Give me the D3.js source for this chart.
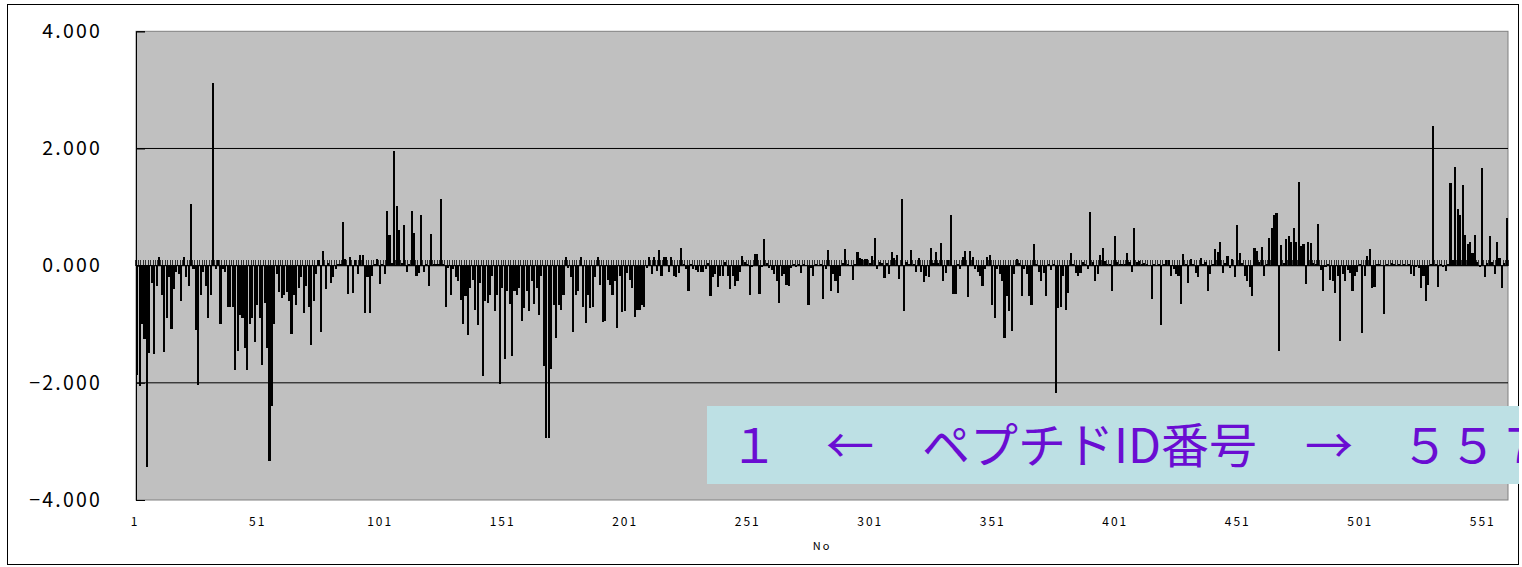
<!DOCTYPE html>
<html>
<head>
<meta charset="utf-8">
<script src="https://cdn.jsdelivr.net/npm/d3@7"></script>
<style>
  html, body { margin: 0; padding: 0; background: #ffffff; }
  svg { display: block; }
</style>
</head>
<body>
<svg id="chart" width="1522" height="567"></svg>
<script>
// Score for each peptide, in peptide ID order (No 1 ... 560)
const peptideValues = [
  -1.87, -2.05, -1.00, -1.25, -3.43, -1.49, -0.30, -1.50, -0.35,  0.15,   // 1-10
  -0.50, -1.47, -0.90, -0.20, -1.08, -0.40, -0.10, -0.15, -0.60,  0.15,   // 11-20
  -0.20, -0.35,  1.06, -0.05, -1.10, -2.03, -0.50, -0.10, -0.35, -0.90,   // 21-30
  -0.50,  3.12, -0.05,  0.10, -1.00, -0.05, -0.10, -0.70, -0.70, -0.70,   // 31-40
  -1.78, -1.46, -0.85, -0.90, -1.40, -1.78, -1.00, -0.90, -1.30, -0.67,   // 41-50
  -0.90, -1.70, -0.64, -1.40, -3.33, -2.40, -1.00, -0.15, -0.45, -0.55,   // 51-60
  -0.50, -0.45, -0.60, -1.17, -0.50, -0.67, -0.38, -0.20, -0.80, -0.35,   // 61-70
  -0.70, -1.35, -0.60, -0.15,  0.10, -1.13,  0.25, -0.40,  0.05, -0.30,   // 71-80
  -0.20, -0.05,  0.02,  0.02,  0.75,  0.12, -0.48,  0.15, -0.47,  0.10,   // 81-90
  -0.15,  0.18,  0.18, -0.80, -0.20, -0.80, -0.18,  0.02,  0.12, -0.32,   // 91-100
   0.02, -0.15,  0.93,  0.53,  0.05,  1.95,  1.02,  0.60,  0.05,  0.70,   // 101-110
  -0.10,  0.02,  0.93,  0.56, -0.18, -0.12,  0.87, -0.10,  0.02, -0.35,   // 111-120
   0.54,  0.03,  0.03,  0.03,  1.14,  0.02, -0.71, -0.04, -0.50, -0.05,   // 121-130
  -0.20, -0.27, -0.58, -1.00, -0.52, -1.18, -0.38, -0.24, -0.75, -1.02,   // 131-140
  -0.30, -1.89, -0.60, -0.64, -0.50, -0.18, -0.77, -0.50, -2.02, -0.38,   // 141-150
  -1.60, -0.44, -0.65, -1.55, -0.44, -0.50, -0.38, -0.95, -0.72, -0.44,   // 151-160
  -0.78, -0.27, -0.65, -0.38, -0.85, -0.18, -1.72, -2.94, -2.94, -1.76,   // 161-170
  -0.67, -1.24, -0.67, -0.75, -0.50,  0.14, -0.04, -0.20, -1.13, -0.50,   // 171-180
  -0.44,  0.14, -0.70, -0.98, -0.50, -0.72, -0.70, -0.20,  0.15, -0.33,   // 181-190
  -0.96, -0.95, -0.24, -0.33, -0.50, -0.27, -1.07, -0.18, -0.79, -0.78,   // 191-200
  -0.12, -0.24, -0.38, -0.87, -0.75, -0.75, -0.68, -0.70, -0.04,  0.14,   // 201-210
  -0.15,  0.15, -0.09,  0.27, -0.18,  0.14,  0.14, -0.10,  0.14, -0.18,   // 211-220
  -0.20, -0.12,  0.30,  0.02, -0.05, -0.44,  0.02, -0.05, -0.07, -0.10,   // 221-230
  -0.10, -0.10, -0.05,  0.05, -0.52, -0.20, -0.15, -0.37, -0.18, -0.18,   // 231-240
   0.07, -0.18, -0.40, -0.18, -0.35, -0.27, -0.10,  0.17,  0.07,  0.02,   // 241-250
  -0.50, -0.02,  0.20,  0.20, -0.48, -0.02,  0.45,  0.05, -0.04, -0.08,   // 251-260
  -0.15, -0.27, -0.64, -0.18, -0.15, -0.33, -0.35, -0.04,  0.03, -0.02,   // 261-270
   0.02, -0.12,  0.02,  0.00, -0.68, -0.04, -0.18,  0.02,  0.00,  0.02,   // 271-280
  -0.57, -0.05,  0.27, -0.44, -0.15, -0.27, -0.47, -0.18,  0.05,  0.29,   // 281-290
   0.02,  0.00, -0.24,  0.02,  0.23,  0.13,  0.12,  0.11,  0.12,  0.05,   // 291-300
   0.17,  0.47, -0.05,  0.07,  0.05, -0.21,  0.05, -0.15,  0.23,  0.13,   // 301-310
   0.18, -0.22,  1.14, -0.77,  0.07,  0.02,  0.27,  0.02, -0.11,  0.13,   // 311-320
  -0.10, -0.28, -0.18, -0.20,  0.30,  0.05,  0.23,  0.05,  0.38, -0.27,   // 321-330
  -0.12,  0.10,  0.86, -0.48, -0.48,  0.02, -0.05,  0.15,  0.25, -0.54,   // 331-340
   0.25,  0.14, -0.05, -0.10, -0.18, -0.34, -0.05,  0.14,  0.18, -0.67,   // 341-350
  -0.90, -0.05, -0.15, -0.27, -1.23, -0.52, -0.78, -1.12, -0.15,  0.12,   // 351-360
   0.05, -0.52, -0.05, -0.15, -0.52, -0.68,  0.37,  0.02, -0.10, -0.27,   // 361-370
  -0.12, -0.52,  0.02, -0.08,  0.02, -2.17, -0.72, -0.71, -0.17, -0.75,   // 371-380
  -0.47,  0.21,  0.02, -0.12, -0.17, -0.12,  0.07,  0.02, -0.06,  0.92,   // 381-390
   0.07, -0.26, -0.15,  0.18,  0.30,  0.08,  0.02,  0.03, -0.44,  0.50,   // 391-400
   0.07,  0.03,  0.02,  0.03,  0.21,  0.07, -0.11,  0.64,  0.07,  0.08,   // 401-410
   0.02,  0.05,  0.02,  0.00, -0.57,  0.02,  0.00,  0.02, -1.02,  0.02,   // 411-420
   0.10,  0.10, -0.18, -0.05, -0.15, -0.18, -0.66,  0.20,  0.03, -0.30,   // 421-430
   0.12,  0.02, -0.12, -0.20,  0.13,  0.02,  0.07, -0.43, -0.15,  0.02,   // 431-440
   0.29,  0.24,  0.40, -0.12,  0.05,  0.16, -0.04,  0.12, -0.20,  0.70,   // 441-450
   0.21,  0.05, -0.18, -0.27, -0.37, -0.52,  0.30,  0.25,  0.07,  0.31,   // 451-460
  -0.18,  0.03,  0.47,  0.64,  0.87,  0.90, -1.45,  0.36,  0.05,  0.45,   // 461-470
   0.50,  0.41,  0.65,  0.41,  1.43,  0.34,  0.37, -0.31,  0.41,  0.38,   // 471-480
   0.05,  0.02,  0.71, -0.07, -0.43, -0.03,  0.02, -0.24, -0.26, -0.47,   // 481-490
  -0.18, -1.28, -0.15, -0.26, -0.08, -0.12, -0.43, -0.18, -0.10,  0.02,   // 491-500
  -1.15, -0.18,  0.16,  0.29, -0.38, -0.37,  0.02,  0.02,  0.00, -0.83,   // 501-510
   0.02,  0.00,  0.05,  0.02,  0.00,  0.02,  0.00,  0.02,  0.00,  0.02,   // 511-520
  -0.15, -0.18, -0.03, -0.04, -0.38, -0.18, -0.60, -0.33,  0.02,  2.39,   // 521-530
   0.02, -0.37,  0.02, -0.03, -0.09,  0.02,  1.41,  0.10,  1.69,  0.97,   // 531-540
   0.87,  1.38,  0.53,  0.37,  0.41,  0.21,  0.53,  0.07, -0.03,  1.66,   // 541-550
  -0.20,  0.05,  0.50,  0.07, -0.15,  0.40,  0.13, -0.38,  0.05,  0.82    // 551-560
];

// Peptide ID numbers (category axis)
const peptideNo = peptideValues.map((v, i) => i + 1);

// Value axis ticks and category axis labels
const yTickValues = [-4, -2, 0, 2, 4];
const gridValues = [-2, 2];
const xTickLabels = [1, 51, 101, 151, 201, 251, 301, 351, 401, 451, 501, 551];
const xAxisTitle = "No";
const bannerText = "１　←　ペプチドID番号　→　５５７";

const svg = d3.select("#chart");
const W = 1522, H = 567;
const plot = { left: 136, right: 1508, top: 31.3, bottom: 500 };

const x = d3.scaleBand()
  .domain(peptideNo)
  .range([plot.left, plot.right])
  .paddingInner(0.15)
  .paddingOuter(0.05);

const y = d3.scaleLinear()
  .domain([-4, 4])
  .range([plot.bottom, plot.top]);

// outer chart border
svg.append("rect")
  .attr("x", 7.5).attr("y", 4.5)
  .attr("width", 1511).attr("height", 560)
  .attr("fill", "#ffffff")
  .attr("stroke", "#000000")
  .attr("stroke-width", 1);

// plot area
svg.append("rect")
  .attr("x", plot.left).attr("y", plot.top)
  .attr("width", plot.right - plot.left)
  .attr("height", plot.bottom - plot.top)
  .attr("fill", "#c0c0c0")
  .attr("stroke", "#808080")
  .attr("stroke-width", 1);

// horizontal gridlines
svg.append("g")
  .selectAll("line")
  .data(gridValues)
  .join("line")
  .attr("x1", plot.left).attr("x2", plot.right)
  .attr("y1", d => y(d)).attr("y2", d => y(d))
  .attr("stroke", "#000000")
  .attr("stroke-width", 1);

// bars
svg.append("g")
  .attr("shape-rendering", "crispEdges")
  .selectAll("rect")
  .data(peptideValues)
  .join("rect")
  .attr("x", (d, i) => x(peptideNo[i]))
  .attr("width", x.bandwidth())
  .attr("y", d => y(Math.max(0, d)))
  .attr("height", d => Math.abs(y(d) - y(0)))
  .attr("fill", "#000000");

// category axis along the zero line, with a tick between every category
const zeroY = y(0);
const tickG = svg.append("g").attr("shape-rendering", "crispEdges");
const boundaries = peptideNo.map(n => x(n) - x.step() * x.paddingInner() / 2);
boundaries.push(plot.right);
tickG.selectAll("line")
  .data(boundaries)
  .join("line")
  .attr("x1", d => d).attr("x2", d => d)
  .attr("y1", zeroY - 6).attr("y2", zeroY)
  .attr("stroke", "#000000")
  .attr("stroke-opacity", 0.75)
  .attr("stroke-width", 1);
svg.append("line")
  .attr("x1", plot.left).attr("x2", plot.right)
  .attr("y1", zeroY).attr("y2", zeroY)
  .attr("stroke", "#000000")
  .attr("stroke-width", 1.2);

// value axis on the left with inside ticks
const yAxis = d3.axisLeft(y)
  .tickValues(yTickValues)
  .tickSize(-9)
  .tickPadding(34)
  .tickFormat(d3.format(".3f"));
const yAxisG = svg.append("g")
  .attr("transform", `translate(${plot.left},0)`)
  .call(yAxis);
yAxisG.select(".domain").attr("stroke", "#000000");
yAxisG.selectAll(".tick line").attr("stroke", "#000000");
yAxisG.selectAll(".tick text")
  .attr("font-family", "'Noto Sans CJK JP', 'Noto Sans', sans-serif")
  .attr("font-size", 19.5)
  .attr("letter-spacing", 2.2)
  .attr("fill", "#000000");

// category labels below the plot
svg.append("g")
  .selectAll("text")
  .data(xTickLabels)
  .join("text")
  .attr("x", d => x(d) + x.bandwidth() / 2 - 2)
  .attr("y", 526)
  .attr("text-anchor", "middle")
  .attr("font-family", "'Noto Sans CJK JP', 'Noto Sans', sans-serif")
  .attr("font-size", 12)
  .attr("letter-spacing", 2)
  .attr("fill", "#000000")
  .text(d => d);

svg.append("text")
  .attr("x", 822)
  .attr("y", 550)
  .attr("text-anchor", "middle")
  .attr("font-family", "'Noto Sans CJK JP', 'Noto Sans', sans-serif")
  .attr("font-size", 11)
  .attr("letter-spacing", 2)
  .attr("fill", "#000000")
  .text(xAxisTitle);

// peptide ID banner, clipped at the chart border
svg.append("clipPath").attr("id", "chartClip")
  .append("rect").attr("x", 0).attr("y", 0).attr("width", 1519).attr("height", H);
const banner = svg.append("g").attr("clip-path", "url(#chartClip)");
banner.append("rect")
  .attr("x", 707).attr("y", 406)
  .attr("width", 830).attr("height", 78)
  .attr("fill", "#bde0e4");
banner.append("text")
  .attr("x", 730)
  .attr("y", 463)
  .attr("font-family", "'Noto Sans CJK JP', sans-serif")
  .attr("font-size", 48)
  .attr("fill", "#6a0dd2")
  .text(bannerText);
</script>
</body>
</html>
